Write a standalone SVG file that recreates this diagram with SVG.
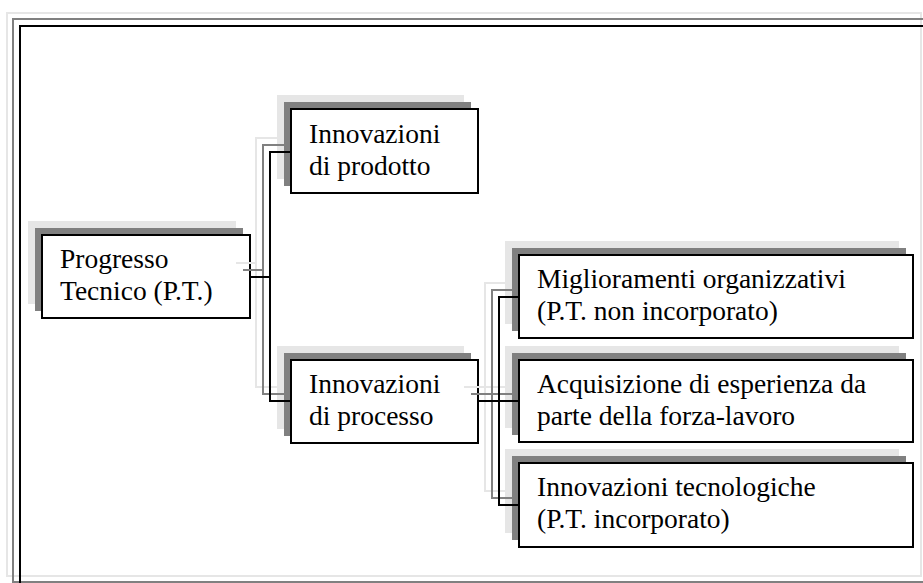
<svg xmlns="http://www.w3.org/2000/svg" width="923" height="583" viewBox="0 0 923 583">
<style>
.fl{fill:none;stroke:#e6e6e6;stroke-width:2}
.fg{fill:none;stroke:#808080;stroke-width:2}
.fb{fill:none;stroke:#000;stroke-width:2}
.s1{fill:#e6e6e6}
.s2{fill:#808080}
.box{fill:#fff;stroke:#000;stroke-width:2}
.t{font-family:"Liberation Serif","Times New Roman",serif;font-size:27.5px;fill:#000}
.cl{fill:none;stroke:#e6e6e6;stroke-width:2}
.cg{fill:none;stroke:#808080;stroke-width:2}
.cb{fill:none;stroke:#000;stroke-width:2}
</style>
<rect width="923" height="583" fill="#fff"/>
<g id="frame">
<rect class="fl" x="7" y="13" width="914" height="563"/>
<rect class="fg" x="13" y="19" width="920" height="563"/>
<rect class="fb" x="20" y="26" width="920" height="580"/>
</g>
<g id="n-progresso">
<rect class="s1" x="28" y="221" width="208" height="83"/>
<rect class="s2" x="35" y="228" width="208" height="83"/>
<rect class="box" x="42" y="235" width="208" height="83"/>
<text class="t" x="60" y="268">Progresso</text>
<text class="t" x="60" y="300">Tecnico (P.T.)</text>
</g>
<g id="n-prodotto">
<rect class="s1" x="277" y="95" width="187" height="84"/>
<rect class="s2" x="284" y="102" width="187" height="84"/>
<rect class="box" x="291" y="109" width="187" height="84"/>
<text class="t" x="309" y="143">Innovazioni</text>
<text class="t" x="309" y="175">di prodotto</text>
</g>
<g id="n-processo">
<rect class="s1" x="277" y="346" width="187" height="83"/>
<rect class="s2" x="284" y="353" width="187" height="83"/>
<rect class="box" x="291" y="360" width="187" height="83"/>
<text class="t" x="309" y="393">Innovazioni</text>
<text class="t" x="309" y="425">di processo</text>
</g>
<g id="n-miglioramenti">
<rect class="s1" x="505" y="241" width="394" height="83"/>
<rect class="s2" x="512" y="248" width="394" height="83"/>
<rect class="box" x="519" y="255" width="394" height="83"/>
<text class="t" x="537" y="288">Miglioramenti organizzativi</text>
<text class="t" x="537" y="320">(P.T. non incorporato)</text>
</g>
<g id="n-acquisizione">
<rect class="s1" x="505" y="346" width="394" height="82"/>
<rect class="s2" x="512" y="353" width="394" height="82"/>
<rect class="box" x="519" y="360" width="394" height="82"/>
<text class="t" x="537" y="393">Acquisizione di esperienza da</text>
<text class="t" x="537" y="425">parte della forza-lavoro</text>
</g>
<g id="n-tecnologiche">
<rect class="s1" x="505" y="449" width="394" height="84"/>
<rect class="s2" x="512" y="456" width="394" height="84"/>
<rect class="box" x="519" y="463" width="394" height="84"/>
<text class="t" x="537" y="496">Innovazioni tecnologiche</text>
<text class="t" x="537" y="528">(P.T. incorporato)</text>
</g>
<g id="connectors">
<g class="cl" transform="translate(-14,-14)">
<path d="M250,277H270V152H291"/>
<path d="M250,277H270V401H291"/>
<path d="M478,401H499V297H519"/>
<path d="M478,401H519"/>
<path d="M478,401H499V505H519"/>
</g>
<g class="cg" transform="translate(-7,-7)">
<path d="M250,277H270V152H291"/>
<path d="M250,277H270V401H291"/>
<path d="M478,401H499V297H519"/>
<path d="M478,401H519"/>
<path d="M478,401H499V505H519"/>
</g>
<g class="cb">
<path d="M250,277H270V152H291"/>
<path d="M250,277H270V401H291"/>
<path d="M478,401H499V297H519"/>
<path d="M478,401H519"/>
<path d="M478,401H499V505H519"/>
</g>
</g>
</svg>
